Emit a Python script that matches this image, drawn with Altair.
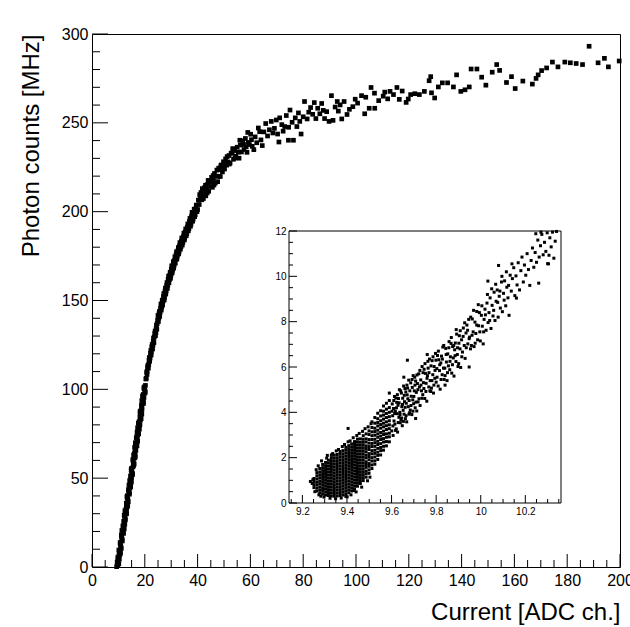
import altair as alt
import pandas as pd

FONT = "Liberation Sans"

# ---------------- main graph: (current [ADC ch.], photon counts [MHz]) ----------------
main_steep = [(9.32,0.2),(10.15,1.9),(9.92,3.6),(9.75,5.3),(10.57,7.0),(10.30,8.7),(11.07,10.4),
    (10.85,12.1),(10.67,13.8),(11.40,15.5),(11.22,17.2),(11.95,18.9),(11.32,20.6),(12.00,22.3),
    (12.42,24.0),(12.00,25.7),(12.57,27.4),(12.20,29.1),(13.08,30.8),(12.85,32.5),(13.53,34.2),
    (13.00,35.9),(13.53,37.6),(13.25,39.3),(14.18,41.0),(13.85,42.7),(14.38,44.4),(14.00,46.1),
    (14.93,47.8),(14.70,49.5),(14.58,51.2),(15.30,52.9),(14.83,54.6),(15.50,56.3),(15.98,58.0),
    (15.55,59.7),(16.23,61.4),(15.76,63.1),(16.33,64.8),(16.36,66.5),(17.03,68.2),(16.41,69.9),
    (17.18,71.6),(16.91,73.3),(17.68,75.0),(17.46,76.7),(17.28,78.4),(18.16,80.1),(17.83,81.8),
    (18.61,83.5),(18.38,85.2),(18.21,86.9),(18.88,88.6),(18.81,90.3),(19.48,92.0),(18.86,93.7),
    (19.69,95.4),(19.41,97.1),(20.14,98.8),(19.66,100.5),(20.24,102.2)]
main_steep_b = [(9.81,1.05),(9.53,2.75),(10.36,4.45),(10.13,6.15),(10.81,7.85),(10.18,9.55),
    (10.96,11.25),(10.69,12.95),(11.46,14.65),(11.29,16.35),(11.11,18.05),(11.79,19.75),
    (12.21,21.45),(11.69,23.15),(12.21,24.85),(12.64,26.55),(12.36,28.25),(13.09,29.95),
    (12.46,31.65),(13.14,33.35),(13.01,35.05),(13.74,36.75),(13.56,38.45),(13.34,40.15),
    (14.16,41.85),(13.79,43.55),(14.66,45.25),(14.49,46.95),(14.27,48.65),(14.99,50.35),
    (15.37,52.05),(14.94,53.75),(14.92,55.45),(15.79,57.15),(15.67,58.85),(15.49,60.55),
    (16.42,62.25),(16.09,63.95),(16.62,65.65),(16.14,67.35),(16.82,69.05),(17.29,70.75),
    (16.77,72.45),(17.34,74.15),(17.07,75.85),(17.94,77.55),(17.82,79.25),(17.55,80.95),
    (18.32,82.65),(18.15,84.35),(18.87,86.05),(18.25,87.75),(18.92,89.45),(18.75,91.15),
    (19.47,92.85),(19.35,94.55),(19.12,96.25),(20.10,97.95),(19.97,99.65),(19.75,101.35)]
main_knee = [(20.4,105.8),(20.7,109.6),(20.9,110.2),(21.2,113.5),(21.5,114.1),(21.7,117.9),
    (22.0,117.6),(22.3,122.0),(22.5,121.1),(22.8,125.3),(23.1,124.9),(23.3,128.9),(23.6,129.4),
    (23.9,132.8),(24.2,131.9),(24.4,136.2),(24.7,137.0),(25.0,141.6),(25.3,140.1),(25.5,143.8),
    (25.8,143.4),(26.1,147.9),(26.4,146.3),(26.6,150.2),(26.9,149.6),(27.2,153.9),(27.5,151.8),
    (27.8,157.0),(28.1,155.4),(28.4,160.1),(28.7,158.6),(29.0,163.7),(29.3,161.8),(29.6,165.9),
    (29.9,164.3),(30.2,169.5),(30.5,167.0),(30.8,171.9),(31.1,169.8),(31.4,174.6),(31.7,173.1),
    (32.0,177.4),(32.3,174.9),(32.7,179.8),(33.0,177.7),(33.3,182.6),(33.7,180.3),(34.0,185.2),
    (34.4,182.6),(34.8,187.9),(35.1,185.0),(35.5,190.3),(35.9,187.6),(36.3,193.1),(36.7,190.5),
    (37.1,196.2),(37.5,193.0),(37.9,199.6),(38.3,195.8),(38.7,201.4),(39.1,198.3),(39.5,203.7),
    (40.0,201.2)]
main_knee_b = [(20.55,106.2),(20.85,108.4),(21.05,112.6),(21.35,111.9),(21.6,116.3),(21.85,115.8),
    (22.15,120.4),(22.4,119.3),(22.65,123.9),(22.95,122.7),(23.2,127.2),(23.45,126.3),
    (23.75,131.4),(24.05,130.2),(24.3,134.3),(24.55,133.8),(24.85,139.0),(25.15,138.2),
    (25.4,142.5),(25.65,141.1),(25.95,145.7),(26.25,144.6),(26.5,148.5),(26.75,147.4),
    (27.05,152.2),(27.35,150.3),(27.65,155.3),(27.95,153.6),(28.25,158.4),(28.55,156.8),
    (28.85,161.9),(29.15,160.0),(29.45,164.2),(29.75,162.5),(30.05,167.6),(30.35,165.5),
    (30.65,169.6),(30.95,168.2),(31.25,172.5),(31.55,171.0),(31.85,175.8),(32.15,173.3),
    (32.5,177.9),(32.85,176.2),(33.15,180.8),(33.5,178.9),(33.85,183.4),(34.2,181.2),
    (34.6,185.9),(34.95,184.0),(35.3,188.6),(35.7,186.4),(36.1,191.3),(36.5,189.2),
    (36.9,194.5),(37.3,191.8),(37.7,197.5),(38.1,194.6),(38.5,199.5),(38.9,197.2),
    (39.3,201.6),(39.75,200.0)]
main_mid = [(40.3,206.5),(40.6,204.0),(41.0,207.9),(41.3,210.8),(41.6,206.7),(42.0,211.4),
    (42.4,209.1),(42.7,213.6),(43.1,208.9),(43.4,212.7),(43.8,215.4),(44.2,211.5),(44.5,216.8),
    (44.9,214.2),(45.3,219.3),(45.6,213.7),(46.0,217.6),(46.4,221.5),(46.7,216.1),(47.1,220.0),
    (47.6,216.9),(48.0,224.5),(48.2,223.6),(48.6,219.8),(49.0,226.3),(49.4,222.4),(49.8,228.1),
    (50.2,224.0),(50.6,229.7),(51.0,226.2),(51.5,228.0),(51.9,231.6),(52.3,227.4),(52.7,232.9),
    (53.1,233.0),(53.6,229.5),(54.0,234.4),(54.5,231.2),(55.0,236.3),(55.7,230.1),(56.2,237.5),
    (56.6,233.6),(57.1,239.9),(57.6,235.0),(58.1,241.2),(58.7,233.4),(59.2,239.0),(59.6,237.8),
    (60.1,243.6),(60.7,236.8),(61.3,234.9),(61.8,242.1),
    (40.8,209.6),(41.8,213.0),(42.2,207.4),(43.0,214.9),(43.6,210.5),(44.0,217.6),(45.0,217.0),
    (45.9,220.3),(46.2,215.0),(47.3,223.4),(47.9,219.9),(48.8,225.8),(49.6,225.0),(50.4,227.3),
    (51.2,231.0),(52.0,226.8),(53.3,235.5),(54.2,230.2),(55.4,233.5),(56.0,240.2),(57.4,237.8),
    (58.4,236.5),(59.0,244.6),(60.4,240.5)]
main_plateau = [(62.4,238.8),(63.0,247.1),(63.5,245.0),(64.0,240.4),(64.5,237.2),(65.1,244.9),
    (65.8,249.6),(66.5,242.6),(67.2,246.1),(67.9,250.8),(68.5,244.3),(69.1,246.9),(69.8,251.6),
    (70.3,243.7),(70.8,239.2),(71.1,252.8),(71.9,249.0),(72.4,245.3),(73.0,247.9),(73.6,254.1),
    (74.4,240.2),(74.5,247.5),(75.0,257.2),(75.8,250.3),(76.3,240.2),(77.0,252.8),(77.6,247.9),
    (78.2,255.6),(78.7,250.8),(79.2,243.7),(80.0,253.4),(80.5,262.0),(81.5,252.2),(82.1,256.0),
    (82.8,258.6),(83.6,254.8),(84.2,261.4),(84.8,252.4),(85.5,258.2),(86.3,255.1),(87.0,260.9),
    (87.6,257.0),(88.1,252.4),(88.9,256.3),(89.8,250.8),(90.7,265.3),(91.3,251.4),(92.1,258.9),
    (92.9,262.0),(93.3,256.6),(94.0,260.1),(94.6,252.2),(95.5,262.0),(96.6,254.7),(97.5,257.6),
    (98.8,259.1),(99.7,263.3)]
main_tail = [(100.6,261.1),(102.1,265.3),(103.3,255.1),(103.7,264.4),(105.0,258.2),(105.7,269.9),
    (107.0,266.7),(107.1,258.2),(108.6,262.5),(110.3,265.0),(110.9,267.3),(112.0,263.5),
    (112.9,267.7),(114.2,265.9),(115.5,269.9),(116.4,263.2),(117.5,267.9),(119.0,261.5),
    (119.8,263.4),(120.7,265.9),(122.3,266.4),(124.0,265.9),(125.9,267.7),(127.7,273.7),
    (128.3,276.0),(128.6,266.9),(129.8,264.0),(131.2,270.2),(132.7,272.5),(134.7,272.5),
    (136.9,270.2),(138.1,277.0),(139.7,267.7),(141.3,268.6),(142.9,270.2),(143.6,280.3),
    (145.8,280.3),(147.6,275.7),(149.2,271.2),(151.6,278.5),(153.3,282.8),(154.4,279.5),
    (157.0,272.7),(158.9,276.0),(160.3,269.3),(163.2,273.5),(166.8,271.8),(168.2,275.0),
    (169.0,277.0),(170.3,279.4),(172.2,280.9),(174.4,284.2),(176.5,281.5),(179.1,284.2),
    (181.2,283.8),(183.4,283.4),(185.8,282.8),(188.3,293.1),(191.7,283.8),(194.1,286.3),
    (195.6,281.5),(199.7,284.8)]

main_x_domain = [0, 200]
main_y_domain = [0, 300]
main_x_major = [0, 20, 40, 60, 80, 100, 120, 140, 160, 180, 200]
main_y_major = [0, 50, 100, 150, 200, 250, 300]
main_x_minor = [v for v in range(0, 201, 5) if v % 20]
main_y_minor = [v for v in range(0, 301, 10) if v % 50]

# ---------------- inset ----------------
# dense core: one x column with the y values read in it
inset_core_x = [9.252, 9.265, 9.278, 9.291, 9.304, 9.317, 9.330, 9.343, 9.356, 9.369,
                9.382, 9.395, 9.408, 9.421, 9.434, 9.447, 9.460, 9.473, 9.486, 9.499]
inset_core_y = [
    [0.68, 0.81, 0.95, 1.08],
    [0.53, 0.66, 0.80, 0.92, 1.06, 1.20, 1.34],
    [0.45, 0.58, 0.71, 0.85, 0.97, 1.11, 1.24, 1.37, 1.52],
    [0.39, 0.52, 0.64, 0.78, 0.91, 1.04, 1.17, 1.30, 1.43, 1.56, 1.70],
    [0.35, 0.48, 0.61, 0.74, 0.87, 1.00, 1.13, 1.26, 1.39, 1.52, 1.65, 1.79],
    [0.33, 0.46, 0.59, 0.72, 0.85, 0.98, 1.11, 1.24, 1.37, 1.50, 1.63, 1.76, 1.89],
    [0.31, 0.44, 0.57, 0.70, 0.83, 0.96, 1.09, 1.22, 1.35, 1.48, 1.61, 1.74, 1.87, 2.00],
    [0.30, 0.42, 0.55, 0.68, 0.81, 0.94, 1.07, 1.20, 1.33, 1.46, 1.59, 1.72, 1.85, 1.98, 2.11],
    [0.31, 0.44, 0.57, 0.70, 0.83, 0.96, 1.09, 1.22, 1.35, 1.48, 1.61, 1.74, 1.87, 2.00, 2.14],
    [0.33, 0.46, 0.59, 0.72, 0.85, 0.98, 1.11, 1.24, 1.37, 1.50, 1.63, 1.76, 1.89, 2.02, 2.15, 2.27],
    [0.35, 0.48, 0.61, 0.74, 0.87, 1.00, 1.13, 1.26, 1.39, 1.52, 1.65, 1.78, 1.91, 2.04, 2.17, 2.31],
    [0.39, 0.52, 0.65, 0.78, 0.91, 1.04, 1.17, 1.30, 1.43, 1.56, 1.69, 1.82, 1.95, 2.08, 2.21, 2.34, 2.46],
    [0.45, 0.58, 0.71, 0.84, 0.97, 1.10, 1.23, 1.36, 1.49, 1.62, 1.75, 1.88, 2.01, 2.14, 2.27, 2.40, 2.53],
    [0.53, 0.66, 0.79, 0.92, 1.05, 1.18, 1.31, 1.44, 1.57, 1.70, 1.83, 1.96, 2.09, 2.22, 2.35, 2.48, 2.61],
    [0.63, 0.76, 0.89, 1.02, 1.15, 1.28, 1.41, 1.54, 1.67, 1.80, 1.93, 2.06, 2.19, 2.32, 2.45, 2.58, 2.71],
    [0.74, 0.87, 1.00, 1.13, 1.26, 1.39, 1.52, 1.65, 1.78, 1.91, 2.04, 2.17, 2.30, 2.43, 2.56, 2.69, 2.82],
    [0.86, 0.99, 1.12, 1.25, 1.38, 1.51, 1.64, 1.77, 1.90, 2.03, 2.16, 2.29, 2.42, 2.55, 2.68, 2.83],
    [0.99, 1.12, 1.25, 1.38, 1.51, 1.64, 1.77, 1.90, 2.03, 2.16, 2.29, 2.42, 2.55, 2.68, 2.81, 2.97],
    [1.14, 1.29, 1.41, 1.57, 1.70, 1.82, 1.99, 2.11, 2.26, 2.40, 2.52, 2.69, 2.83, 3.05],
    [1.31, 1.46, 1.62, 1.74, 1.91, 2.05, 2.18, 2.36, 2.49, 2.64, 2.80, 3.02, 3.18],
]
inset_band_x = [9.512, 9.525, 9.538, 9.551, 9.564, 9.577, 9.590]
inset_band_y = [
    [1.52, 1.68, 1.85, 2.00, 2.17, 2.31, 2.49, 2.63, 2.80, 2.97, 3.14, 3.33, 3.58],
    [1.71, 1.86, 2.03, 2.19, 2.33, 2.50, 2.66, 2.81, 2.99, 3.15, 3.30, 3.52, 3.77],
    [1.92, 2.10, 2.24, 2.41, 2.58, 2.72, 2.90, 3.05, 3.21, 3.40, 3.55, 3.72, 3.96],
    [2.12, 2.31, 2.45, 2.62, 2.80, 2.95, 3.11, 3.30, 3.46, 3.63, 3.84, 4.07],
    [2.33, 2.50, 2.69, 2.84, 3.02, 3.17, 3.36, 3.52, 3.70, 3.88, 4.05, 4.28],
    [2.52, 2.71, 2.90, 3.05, 3.24, 3.41, 3.58, 3.77, 3.95, 4.14, 4.40],
    [2.70, 2.92, 3.08, 3.28, 3.45, 3.63, 3.81, 4.00, 4.21, 4.52],
]
inset_edge = [(9.244,0.86),(9.247,1.03),(9.256,0.50),(9.262,1.47),(9.271,1.64),(9.274,0.36),
    (9.286,1.86),(9.297,0.26),(9.309,1.98),(9.312,2.10),(9.324,0.21),(9.336,2.18),(9.349,0.19),
    (9.352,2.30),(9.362,2.36),(9.374,0.22),(9.379,2.49),(9.389,2.58),(9.401,0.27),(9.405,2.70),
    (9.414,2.74),(9.418,0.36),(9.428,2.88),(9.441,0.49),(9.444,2.98),(9.455,3.07),(9.466,0.70),
    (9.470,3.16),(9.481,3.28),(9.492,0.98),(9.495,3.36),(9.503,1.14),(9.508,3.50),(9.236,0.95),
    (9.283,0.30),(9.330,2.12),(9.395,0.29),(9.432,0.55)]
inset_mid = [(9.601,3.18),(9.603,4.37),(9.605,3.85),(9.607,2.98),(9.609,4.17),(9.611,3.62),
    (9.613,4.70),(9.615,3.48),(9.617,4.05),(9.619,4.63),(9.621,3.27),(9.623,4.44),(9.625,3.94),
    (9.627,3.13),(9.629,4.31),(9.631,4.61),(9.633,3.78),(9.635,5.00),(9.637,4.00),(9.639,3.54),
    (9.642,3.66),(9.644,4.85),(9.646,4.25),(9.648,3.41),(9.650,4.62),(9.652,4.09),(9.654,5.16),
    (9.656,3.92),(9.658,4.47),(9.660,5.05),(9.662,3.72),(9.664,4.90),(9.666,4.40),(9.668,3.58),
    (9.670,4.77),(9.672,5.07),(9.675,4.25),(9.677,5.42),(9.679,4.52),(9.681,3.98),(9.684,4.10),
    (9.686,5.30),(9.688,4.71),(9.691,3.90),(9.693,5.10),(9.695,4.55),(9.697,5.62),(9.699,4.38),
    (9.702,4.95),(9.704,5.55),(9.706,4.20),(9.708,5.38),(9.711,4.88),(9.713,4.06),(9.716,5.27),
    (9.602,4.05),(9.606,3.40),(9.610,4.52),(9.614,3.95),(9.618,3.20),(9.622,4.20),(9.626,4.78),
    (9.630,3.55),(9.634,4.42),(9.638,3.90),(9.641,4.95),(9.645,3.75),(9.649,4.35),(9.653,3.60),
    (9.657,4.75),(9.661,4.22),(9.665,3.85),(9.669,5.20),(9.673,4.60),(9.678,3.92),(9.682,4.95),
    (9.687,4.30),(9.692,5.45),(9.696,4.05),(9.700,4.70),(9.705,5.20),(9.709,4.45),(9.714,5.65)]
inset_upper = [(9.719,4.46),(9.722,5.70),(9.725,5.12),(9.728,4.30),(9.731,5.43),(9.734,4.95),
    (9.737,6.02),(9.740,4.78),(9.743,5.31),(9.746,5.90),(9.749,4.61),(9.752,5.72),(9.755,5.28),
    (9.758,4.49),(9.761,5.62),(9.764,5.95),(9.767,5.12),(9.770,6.35),(9.773,5.40),(9.776,4.92),
    (9.779,5.07),(9.782,6.28),(9.785,5.66),(9.788,4.85),(9.791,6.02),(9.794,5.50),(9.797,6.60),
    (9.800,5.33),(9.803,5.93),(9.806,6.51),(9.809,5.16),(9.812,6.32),(9.815,5.84),(9.818,5.02),
    (9.821,6.18),(9.824,6.48),(9.827,5.66),(9.830,6.88),(9.833,5.95),(9.836,5.45),(9.840,5.62),
    (9.843,6.82),(9.846,6.22),(9.849,5.40),(9.852,6.58),(9.855,6.05),(9.858,7.12),(9.861,5.88),
    (9.864,6.45),(9.867,7.04),(9.870,5.73),(9.874,6.90),(9.877,6.40),(9.880,5.60),(9.883,6.76),
    (9.886,7.06),(9.889,6.24),(9.892,7.45),(9.895,6.55),(9.898,6.02),(9.901,6.15),(9.904,7.38),
    (9.907,6.80),(9.910,5.98),
    (9.718,5.00),(9.723,4.60),(9.727,5.85),(9.732,5.20),(9.736,4.62),(9.741,5.75),(9.745,5.05),
    (9.750,6.15),(9.754,4.92),(9.759,5.50),(9.763,6.25),(9.768,5.75),(9.772,4.95),(9.777,6.05),
    (9.781,5.40),(9.786,6.45),(9.790,5.20),(9.795,5.85),(9.799,6.30),(9.804,5.55),(9.810,6.70),
    (9.816,6.10),(9.822,5.45),(9.828,6.35),(9.834,6.95),(9.839,5.95),(9.845,6.55),(9.851,5.75),
    (9.857,6.85),(9.862,6.25),(9.868,7.30),(9.873,6.10),(9.879,6.95),(9.885,6.50),(9.890,7.65),
    (9.896,6.85),(9.902,7.05),(9.908,7.60)]
inset_tail = [(9.914,7.20),(9.918,6.66),(9.922,7.72),(9.926,6.95),(9.930,6.38),(9.934,7.50),
    (9.938,7.85),(9.942,7.02),(9.946,8.10),(9.950,7.32),(9.954,6.80),(9.958,6.95),(9.962,8.12),
    (9.966,7.55),(9.970,6.90),(9.974,7.98),(9.978,7.48),(9.982,8.45),(9.986,7.20),(9.990,7.82),
    (9.994,8.40),(9.998,7.15),(10.003,8.28),(10.007,7.80),(10.011,7.02),(10.015,8.10),(10.019,8.55),
    (10.024,7.62),(10.028,8.82),(10.033,7.96),(10.037,8.40),(10.042,9.05),(10.046,7.70),
    (10.051,8.72),(10.055,8.25),(10.060,9.30),(10.064,8.05),(10.069,8.90),(10.074,9.40),
    (10.078,8.20),(10.083,9.12),(10.088,8.60),(10.093,9.75),(10.097,8.44),(10.102,9.25),
    (10.107,9.80),(10.112,8.70),(10.117,9.52),(10.122,9.05),(10.127,8.28),(10.132,10.05),
    (10.137,9.35),(10.142,9.90),(10.148,10.38),(10.153,9.15),(10.158,10.02),(10.163,9.62),
    (10.168,10.60),(10.174,9.40),(10.180,10.25),(10.185,10.85),(10.191,9.75),(10.196,10.50),
    (10.202,10.05),(10.208,11.00),(10.214,10.30),(10.220,9.60),(10.226,10.70),(10.232,11.25),
    (10.238,10.40),(10.244,11.05),(10.250,10.62),(10.256,11.60),(10.262,10.85),(10.268,11.35),
    (10.274,11.85),(10.280,10.95),(10.286,11.50),(10.292,11.10),(10.298,11.92),(10.304,10.55),
    (10.310,11.70),(10.316,11.30),(10.322,11.95),(10.328,10.80),(10.334,11.55),(10.340,11.98),
    (10.247,11.88),(10.270,11.95),
    (9.915,6.45),(9.921,7.35),(9.928,7.95),(9.935,6.85),(9.941,7.62),(9.948,7.25),(9.955,8.20),
    (9.961,7.40),(9.968,8.50),(9.975,7.05),(9.982,7.85),(9.989,8.75),(9.996,7.55),(10.005,8.70),
    (10.013,7.55),(10.021,8.30),(10.030,9.20),(10.040,8.05),(10.049,9.45),(10.058,8.50),
    (10.067,9.65),(10.076,8.85),(10.086,9.35),(10.095,10.00),(10.105,8.95),(10.115,10.20),
    (10.125,9.60),(10.140,10.55)]
inset_outliers = [(9.405,3.29),(9.671,6.30),(9.708,3.73),(9.948,6.00),(10.160,9.04),
    (10.260,9.70),(10.080,10.48),(10.300,10.56),(10.306,10.93),(10.032,9.79),(9.655,5.55),
    (9.590,4.85),(9.760,6.55),(9.840,5.20)]

inset_x_domain = [9.14, 10.36]
inset_y_domain = [0, 12]
inset_x_major = [9.2, 9.4, 9.6, 9.8, 10.0, 10.2]
inset_x_minor = [9.15, 9.25, 9.3, 9.35, 9.45, 9.5, 9.55, 9.65, 9.7, 9.75, 9.85, 9.9, 9.95,
                 10.05, 10.1, 10.15, 10.25, 10.3, 10.35]
inset_y_major = [0, 2, 4, 6, 8, 10, 12]
inset_y_minor = [0.5, 1, 1.5, 2.5, 3, 3.5, 4.5, 5, 5.5, 6.5, 7, 7.5, 8.5, 9, 9.5, 10.5, 11, 11.5]

# ---------------- tables ----------------
main_df = pd.DataFrame(main_steep + main_steep_b + main_knee + main_knee_b + main_mid
                       + main_plateau + main_tail, columns=["current", "photons"])
inset_rows = [(x, y) for x, ys in zip(inset_core_x, inset_core_y) for y in ys]
inset_rows += [(x, y) for x, ys in zip(inset_band_x, inset_band_y) for y in ys]
inset_rows += inset_edge + inset_mid + inset_upper + inset_tail + inset_outliers
inset_df = pd.DataFrame(inset_rows, columns=["ix", "iy"])
frame_df = pd.DataFrame({"x0": [inset_x_domain[0]], "x1": [inset_x_domain[1]],
                         "y0": [inset_y_domain[0]], "y1": [inset_y_domain[1]]})

# ---------------- geometry ----------------
W, H = 528, 533
IN_LO, IN_HI = 197, 469   # inset box inside the plot area, pixels

sx_main = alt.Scale(domain=main_x_domain, nice=False, zero=False)
sy_main = alt.Scale(domain=main_y_domain, nice=False, zero=False)
sx_in = alt.Scale(domain=inset_x_domain, range=[IN_LO, IN_HI], nice=False, zero=False)
sy_in = alt.Scale(domain=inset_y_domain, range=[IN_HI, IN_LO], nice=False, zero=False)

# one axis definition per scale, used identically by every layer of that scale
ax_main_x = alt.Axis(
    values=main_x_major, orient="bottom", ticks=False, domain=False, grid=False,
    labelFont=FONT, labelFontSize=16, labelColor="black", labelPadding=5,
    labelFlush=False, labelOverlap=False, zindex=2,
    title="Current [ADC ch.]", titleFont=FONT, titleFontSize=24,
    titleFontWeight="normal", titleColor="black", titleX=W, titleY=52,
    titleAlign="right", titleBaseline="alphabetic")
ax_main_y = alt.Axis(
    values=main_y_major, orient="left", ticks=False, domain=False, grid=False,
    labelFont=FONT, labelFontSize=16, labelColor="black", labelPadding=4,
    labelFlush=False, labelOverlap=False, zindex=2,
    title="Photon counts [MHz]", titleFont=FONT, titleFontSize=24,
    titleFontWeight="normal", titleColor="black", titleAngle=270, titleX=-54,
    titleY=0, titleAlign="right", titleBaseline="alphabetic")
ax_in_x = alt.Axis(
    values=inset_x_major, orient="bottom", offset=-(H - IN_HI), ticks=False,
    domain=False, grid=False, format=".1~f", labelFont=FONT, labelFontSize=10,
    labelColor="black", labelPadding=3, labelFlush=False, labelOverlap=False,
    title=None, zindex=2)
ax_in_y = alt.Axis(
    values=inset_y_major, orient="left", offset=-IN_LO, ticks=False,
    domain=False, grid=False, labelFont=FONT, labelFontSize=10,
    labelColor="black", labelPadding=3, labelFlush=False, labelOverlap=False,
    title=None, zindex=2)


def x_ticks(values, scale, axis, base, length):
    # inward ticks on a bottom axis (base = pixel row of that axis)
    return alt.Chart(pd.DataFrame({"v": values})).mark_rule(
        color="black", strokeWidth=1).encode(
        x=alt.X("v:Q", scale=scale, axis=axis),
        y=alt.value(base), y2=alt.value(base - length))


def y_ticks(values, scale, axis, base, length):
    # inward ticks on a left axis (base = pixel column of that axis)
    return alt.Chart(pd.DataFrame({"v": values})).mark_rule(
        color="black", strokeWidth=1).encode(
        y=alt.Y("v:Q", scale=scale, axis=axis),
        x=alt.value(base), x2=alt.value(base + length))


main_points = alt.Chart(main_df).mark_square(size=22, color="black", opacity=1,
                                              strokeWidth=0).encode(
    x=alt.X("current:Q", scale=sx_main, axis=ax_main_x),
    y=alt.Y("photons:Q", scale=sy_main, axis=ax_main_y),
)

main_group = alt.layer(
    main_points,
    x_ticks(main_x_major, sx_main, ax_main_x, H, 13),
    x_ticks(main_x_minor, sx_main, ax_main_x, H, 7),
    y_ticks(main_y_major, sy_main, ax_main_y, 0, 16),
    y_ticks(main_y_minor, sy_main, ax_main_y, 0, 8),
)

inset_frame = alt.Chart(frame_df).mark_rect(fill="white", stroke="black",
                                            strokeWidth=1).encode(
    x=alt.X("x0:Q", scale=sx_in, axis=ax_in_x),
    x2="x1:Q",
    y=alt.Y("y0:Q", scale=sy_in, axis=ax_in_y),
    y2="y1:Q",
)
inset_points = alt.Chart(inset_df).mark_square(size=9, color="black", opacity=1,
                                                strokeWidth=0).encode(
    x=alt.X("ix:Q", scale=sx_in, axis=ax_in_x),
    y=alt.Y("iy:Q", scale=sy_in, axis=ax_in_y),
)

inset_group = alt.layer(
    inset_frame,
    inset_points,
    x_ticks(inset_x_major, sx_in, ax_in_x, IN_HI, 8),
    x_ticks(inset_x_minor, sx_in, ax_in_x, IN_HI, 4),
    y_ticks(inset_y_major, sy_in, ax_in_y, IN_LO, 8),
    y_ticks(inset_y_minor, sy_in, ax_in_y, IN_LO, 4),
)

chart = alt.layer(main_group, inset_group).resolve_scale(
    x="independent", y="independent"
).properties(
    width=W, height=H,
    padding={"left": 92, "top": 34, "right": 10, "bottom": 60},
    autosize=alt.AutoSizeParams(type="none"),
    background="white",
).configure_view(stroke="black", strokeWidth=1)

chart.save("out.html", embed_options={"renderer": "svg", "actions": False})
